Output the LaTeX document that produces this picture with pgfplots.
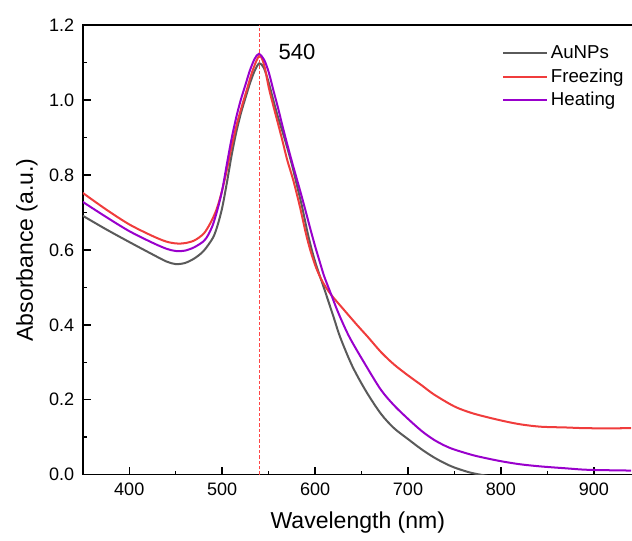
\documentclass[border=0pt]{standalone}
\usepackage{fontspec}
\setmainfont{Liberation Sans}
\usepackage{pgfplots}
\pgfplotsset{compat=1.18}
\definecolor{cgray}{RGB}{90,90,90}
\definecolor{cred}{RGB}{240,60,60}
\definecolor{cpurple}{RGB}{153,0,204}
\definecolor{cdash}{RGB}{255,70,70}
\begin{document}
\begin{tikzpicture}
\begin{axis}[
  scale only axis,
  width=411.97pt, height=336.75pt,
  xmin=350, xmax=942, ymin=0, ymax=1.2,
  clip mode=individual,
  axis line style={line width=1.2pt},
  xtick={400,500,600,700,800,900},
  ytick={0,0.2,0.4,0.6,0.8,1.0,1.2},
  minor xtick={450,550,650,750,850},
  minor ytick={0.1,0.3,0.5,0.7,0.9,1.1},
  tick pos=left,
  tick align=inside,
  major tick length=6pt, minor tick length=3pt,
  xtick style={black, line width=1.1pt},
  ytick style={black, line width=1.1pt},
  /pgf/number format/assume math mode=true,
  yticklabel style={/pgf/number format/fixed, /pgf/number format/fixed zerofill, /pgf/number format/precision=1, xshift=-3pt},
  ticklabel style={font=\fontsize{13.5}{16}\selectfont},
  xticklabel style={yshift=-3pt},
  xlabel={Wavelength (nm)},
  ylabel={Absorbance (a.u.)},
  label style={font=\fontsize{17.25}{20}\selectfont},
  xlabel style={at={(axis description cs:0.5,-0.1069)}, anchor=center},
  ylabel style={at={(axis description cs:-0.1015,0.5)}, anchor=center},
  legend style={draw=none, fill=none, at={(rel axis cs:0.757,0.966)}, anchor=north west,
    font=\fontsize{14}{17}\selectfont, row sep=2pt, inner sep=2pt},
  legend cell align=left,
  legend image code/.code={\draw[#1] (0pt,0pt) -- (33pt,0pt);},
]
\addplot[cgray, line width=1.5pt, smooth] coordinates {
(350,0.691)(375,0.655)(400,0.621)(425,0.588)(440,0.569)(450,0.562)(460,0.565)(470,0.577)
(480,0.597)(490,0.632)(495,0.665)(500,0.712)(505,0.778)(510,0.850)(515,0.912)(520,0.963)
(525,1.005)(530,1.045)(535,1.078)(540,1.098)(545,1.085)(550,1.047)(555,1.000)(560,0.955)
(565,0.915)(570,0.873)(575,0.828)(580,0.777)(586,0.715)(592,0.645)(597,0.595)(602,0.553)
(610,0.495)(620,0.420)(627,0.367)(640,0.290)(655,0.222)(671,0.162)(685,0.124)(700,0.095)
(715,0.067)(728,0.046)(740,0.030)(750,0.019)(765,0.007)(778,0.000)(800,-0.008)(850,-0.015)(940,-0.02)};
\addlegendentry{AuNPs}
\addplot[cred, line width=1.5pt, smooth] coordinates {
(350,0.752)(375,0.708)(400,0.668)(425,0.637)(440,0.622)(451,0.617)(460,0.618)(470,0.625)
(480,0.643)(487,0.670)(494,0.708)(500,0.759)(505,0.813)(509,0.862)(515,0.928)(520,0.973)
(526.5,1.027)(533,1.080)(540,1.118)(545,1.095)(550,1.035)(555,0.985)(560,0.938)(565,0.890)
(570,0.840)(576.5,0.786)(583.7,0.715)(590,0.645)(595,0.598)(601,0.553)(608,0.515)(617,0.481)
(630,0.443)(645,0.400)(657,0.367)(671,0.327)(685,0.294)(700,0.265)(715,0.238)(728,0.214)
(750,0.182)(768,0.165)(786,0.153)(805,0.142)(822,0.134)(843,0.128)(870,0.126)(894,0.124)(940,0.124)};
\addlegendentry{Freezing}
\addplot[cpurple, line width=1.5pt, smooth] coordinates {
(350,0.728)(375,0.688)(400,0.650)(425,0.619)(440,0.603)(450,0.597)(460,0.598)(470,0.607)
(480,0.623)(485,0.640)(490,0.667)(495,0.708)(500,0.759)(505,0.828)(510,0.895)(515,0.952)
(520,1.000)(525,1.040)(530,1.080)(535,1.110)(539.5,1.123)(545,1.108)(550,1.075)(555,1.027)
(560,0.980)(565,0.930)(570,0.882)(575,0.836)(580,0.792)(585,0.748)(590,0.702)(595,0.655)
(600,0.610)(606,0.560)(610,0.528)(617,0.483)(625,0.432)(637,0.367)(655,0.290)(671,0.226)
(685,0.185)(700,0.149)(715,0.116)(728,0.093)(740,0.077)(750,0.067)(770,0.052)(786,0.043)
(800,0.036)(820,0.028)(843,0.022)(870,0.017)(894,0.013)(940,0.011)};
\addlegendentry{Heating}
\addplot[color=cdash, line width=1pt, dash pattern=on 2.5pt off 1.5pt, forget plot] coordinates {(540,0) (540,1.2)};
\node[anchor=west, inner sep=0pt, font=\fontsize{16.5}{20}\selectfont] at (axis cs:560.6,1.129) {540};
\coordinate (bl) at (rel axis cs:0,0);
\coordinate (tr) at (rel axis cs:1,1);
\end{axis}
\pgfresetboundingbox
\path[use as bounding box] ([xshift=-62pt,yshift=-49.5pt]bl) rectangle ([xshift=-0.65pt,yshift=18.75pt]tr);
\end{tikzpicture}
\end{document}
